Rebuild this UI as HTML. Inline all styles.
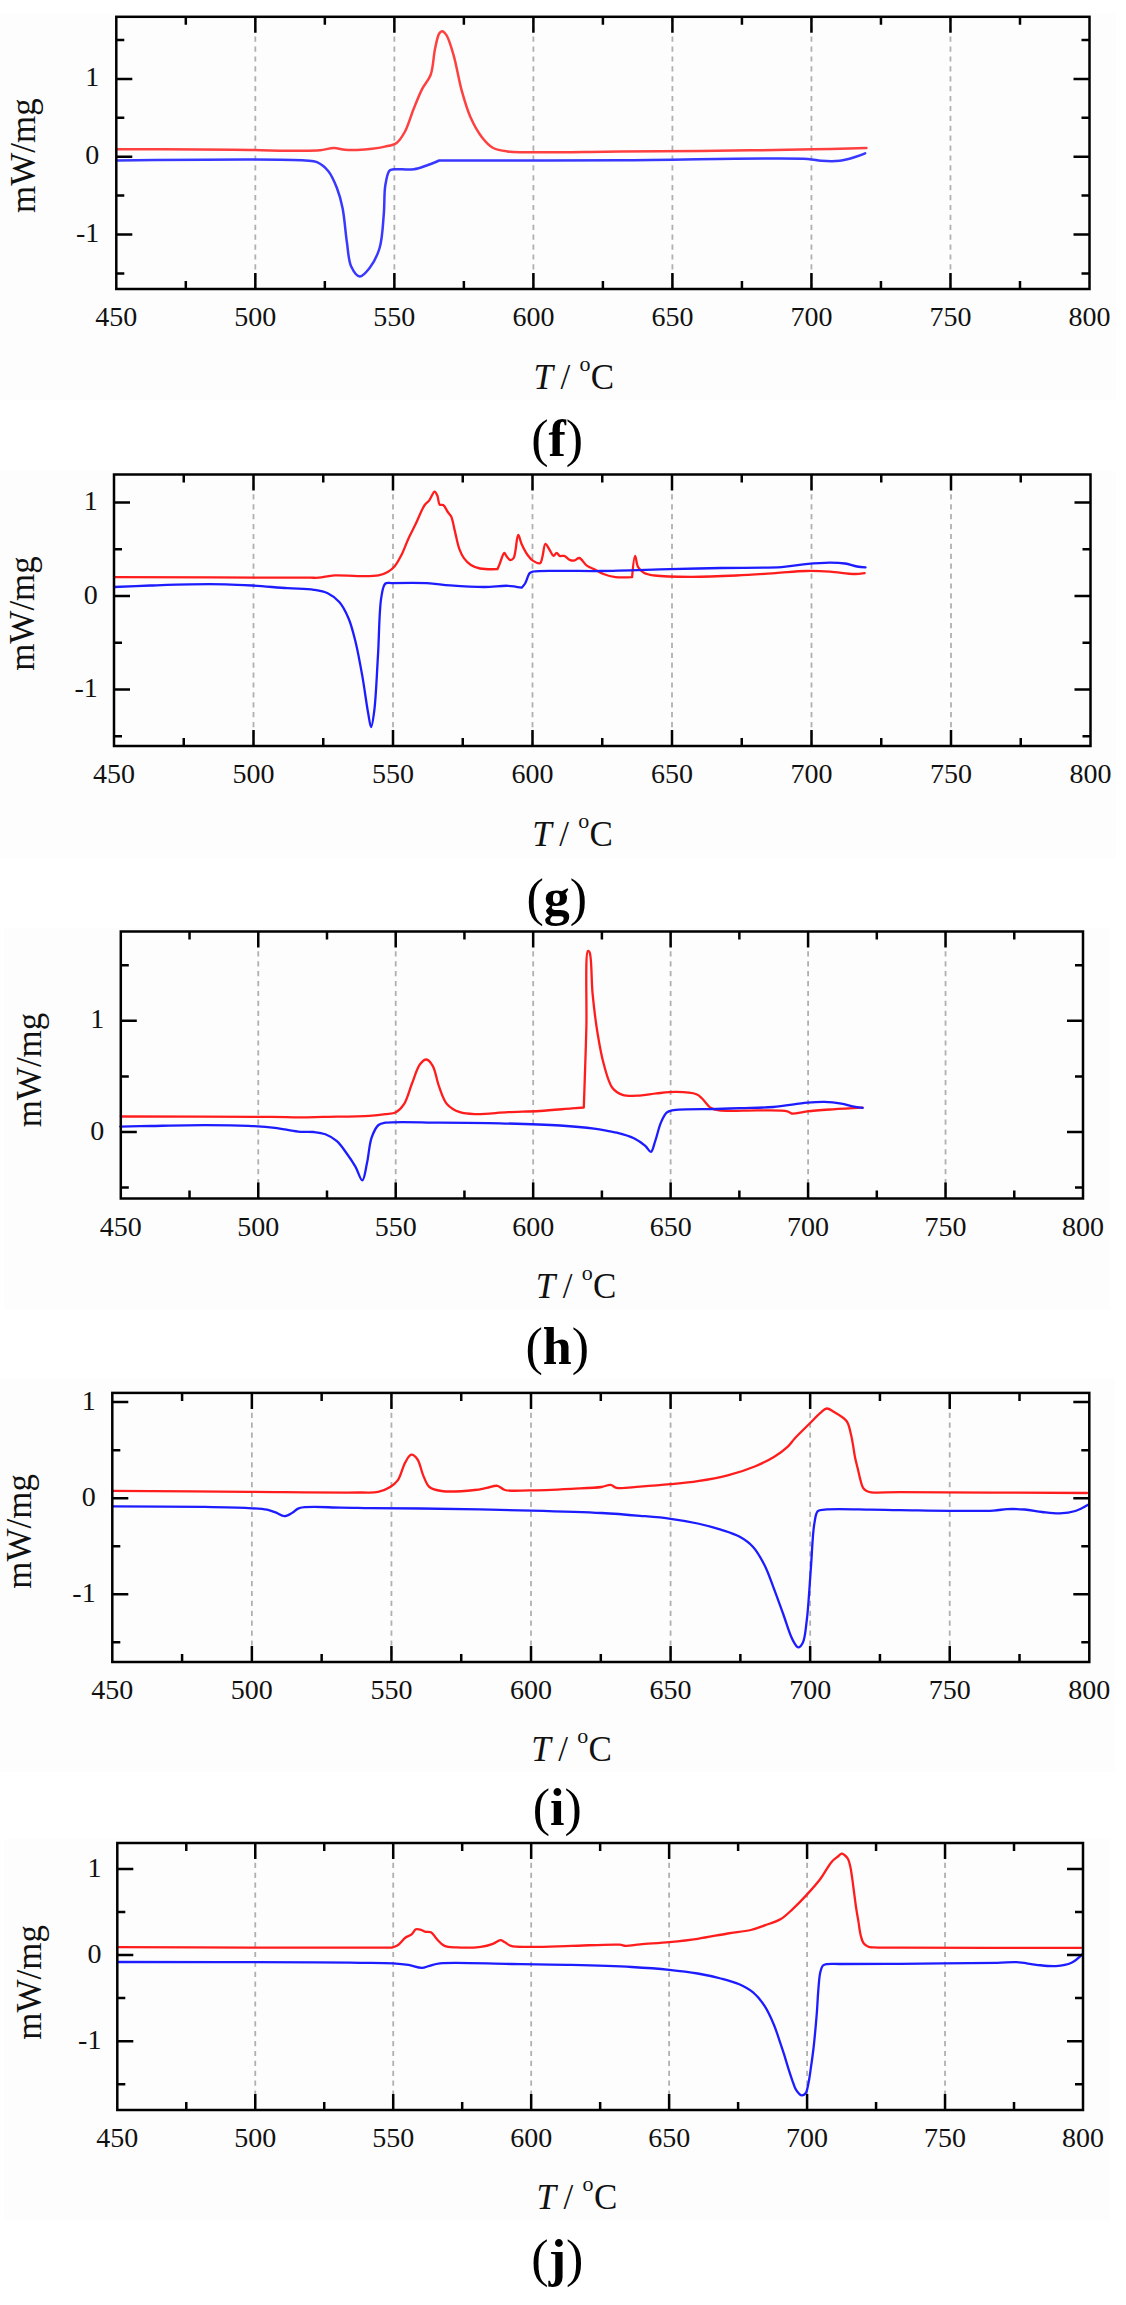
<!DOCTYPE html>
<html><head><meta charset="utf-8"><style>html,body{margin:0;padding:0;background:#fff;overflow:hidden;}svg{display:block;font-family:"Liberation Serif", serif;}</style></head><body>
<svg width="1126" height="2305" viewBox="0 0 1126 2305">
<rect width="1126" height="2305" fill="#fff"/>
<rect x="0" y="13" width="1116" height="387" fill="#fdfdfd"/>
<path d="M255.33 16.8V289M394.36 16.8V289M533.39 16.8V289M672.41 16.8V289M811.44 16.8V289M950.47 16.8V289" stroke="#b0b0b0" stroke-width="1.8" stroke-dasharray="5.2 4.7" fill="none"/>
<path d="M116.3 149.3C116.3 149.3 175.67 149.35 200 149.5C218.8 149.62 233.33 149.78 250 150C266.67 150.22 287.09 150.86 300 150.8C308.17 150.76 313.94 150.87 320 150.3C325.1 149.82 329.61 148 334 148C337.89 148 341.26 149.46 345 149.8C348.85 150.15 352.03 150.25 356.8 150C364.19 149.62 377.71 148.19 385 146.6C389.77 145.56 393.34 145.24 396.6 142.9C400.11 140.38 402.45 136.15 405 131.5C408.34 125.4 410.75 116.09 413.7 108.8C416.49 101.92 419.15 94.88 422.2 88.9C424.87 83.67 428.62 80.36 430.7 74.7C433.31 67.62 433.38 56.55 435 49.1C436.28 43.22 437.41 36.27 439.2 33.5C440.05 32.19 440.97 31.19 442 31.2C443.29 31.21 444.93 32.92 446.3 34.9C448.94 38.73 451.22 47.07 453.5 54.8C456.55 65.14 458.88 80.59 462 91.7C464.63 101.08 467 109.46 470.5 117.3C473.73 124.53 477.68 131.81 481.9 137.2C485.38 141.65 488.86 145.63 493.2 148C497.4 150.29 500.34 150.57 507.4 151.4C527 153.71 585.67 151.49 620 151.4C648.94 151.33 671.04 151.29 700 151C734.42 150.66 782.31 149.9 813 149.3C834.1 148.88 866.4 148 866.4 148" fill="none" stroke="#ff4040" stroke-width="2.5" stroke-linejoin="round" stroke-linecap="round"/>
<path d="M116.3 160.5C116.3 160.5 280.4 158.68 305.4 160.5C311.62 160.95 313.35 160.62 317 162.2C321.07 163.97 325.2 167.37 328.4 171.3C332.05 175.79 334.66 182.29 337 188.3C339.44 194.56 341.06 200.61 342.6 208.2C344.58 217.98 345.32 231.92 346.9 242.3C348.23 251.07 348.35 260.48 351.2 266.5C353.28 270.89 356.63 276.17 359.7 276.4C362.77 276.63 366.62 271.71 369.6 267.9C373.49 262.93 377.25 255.76 379.6 248C382.52 238.37 382.85 224.76 383.8 213.9C384.67 204.02 383.99 193.38 385.3 185.5C386.26 179.71 387.29 172.99 389.5 170.7C390.7 169.46 391.81 169.62 393.8 169.3C397.98 168.64 407.68 170.19 413.7 169.3C418.89 168.53 423.47 166.55 427.9 165C431.91 163.6 439.2 160.5 439.2 160.5C439.2 160.5 439.2 160.5 439.2 160.5C439.2 160.5 559.16 160.56 620 160.3C682.01 160.03 781.59 157.12 807.8 158.9C814.78 159.37 816.2 160.46 821 160.8C826.7 161.21 833.83 161.54 839.8 160.8C845.39 160.11 851.22 158.23 855.8 156.8C859.35 155.69 865.1 153.3 865.1 153.3" fill="none" stroke="#3838ff" stroke-width="2.5" stroke-linejoin="round" stroke-linecap="round"/>
<path d="M185.81 289v-8M185.81 16.8v8M255.33 289v-16M255.33 16.8v16M324.84 289v-8M324.84 16.8v8M394.36 289v-16M394.36 16.8v16M463.87 289v-8M463.87 16.8v8M533.39 289v-16M533.39 16.8v16M602.9 289v-8M602.9 16.8v8M672.41 289v-16M672.41 16.8v16M741.93 289v-8M741.93 16.8v8M811.44 289v-16M811.44 16.8v16M880.96 289v-8M880.96 16.8v8M950.47 289v-16M950.47 16.8v16M1019.99 289v-8M1019.99 16.8v8M116.3 40h8M1089.5 40h-8M116.3 78.9h16M1089.5 78.9h-16M116.3 117.8h8M1089.5 117.8h-8M116.3 156.7h16M1089.5 156.7h-16M116.3 195.6h8M1089.5 195.6h-8M116.3 234.5h16M1089.5 234.5h-16M116.3 273.4h8M1089.5 273.4h-8" stroke="#000" stroke-width="2.5" fill="none"/>
<rect x="116.3" y="16.8" width="973.2" height="272.2" fill="none" stroke="#000" stroke-width="2.5" stroke-linejoin="miter"/>
<g font-size="28" fill="#111"><text x="116.3" y="326" text-anchor="middle">450</text><text x="255.33" y="326" text-anchor="middle">500</text><text x="394.36" y="326" text-anchor="middle">550</text><text x="533.39" y="326" text-anchor="middle">600</text><text x="672.41" y="326" text-anchor="middle">650</text><text x="811.44" y="326" text-anchor="middle">700</text><text x="950.47" y="326" text-anchor="middle">750</text><text x="1089.5" y="326" text-anchor="middle">800</text><text x="99.3" y="86.4" text-anchor="end">1</text><text x="99.3" y="164.2" text-anchor="end">0</text><text x="99.3" y="242" text-anchor="end">-1</text></g>
<text transform="translate(34.8 155.6) rotate(-90)" x="0" y="0" text-anchor="middle" font-size="35" fill="#111">mW/mg</text>
<g font-size="35" fill="#111"><text x="533.5" y="389" font-style="italic">T</text><text x="560.5" y="389">/</text><text x="579.5" y="371" font-size="22">o</text><text x="590.8" y="389">C</text></g>
<text x="531.2" y="455.5" font-size="52" fill="#000">(<tspan font-weight="bold">f</tspan>)</text>
<rect x="0" y="471" width="1116" height="387.3" fill="#fdfdfd"/>
<path d="M253.5 474.5V746M393 474.5V746M532.5 474.5V746M672 474.5V746M811.5 474.5V746M951 474.5V746" stroke="#b0b0b0" stroke-width="1.8" stroke-dasharray="5.2 4.7" fill="none"/>
<path d="M114 577.2C114 577.2 287.48 577.67 310 577.7C314.69 577.71 315.23 577.93 318.5 577.7C323.03 577.38 328.73 575.73 334.6 575.4C341.59 575.01 350.2 576.11 357.7 576.1C364.82 576.09 373.03 576.47 378.5 575.4C382.26 574.66 384.96 573.58 387.7 572C390.34 570.48 392.57 568.69 394.7 566.2C397.29 563.18 399.44 558.94 401.6 554.7C404.08 549.84 406.12 543.66 408.5 538.5C410.73 533.66 412.95 529.64 415.4 524.6C418.29 518.64 421.79 509.12 424.7 505C426.29 502.74 427.82 502.29 429.3 500.4C431.16 498.03 433.09 491.63 434.6 491.6C435.66 491.58 436.62 494.06 437.4 495.8C438.45 498.13 438.25 503.34 439.7 504.6C440.6 505.38 442.1 504.32 443.2 505C444.89 506.04 446.36 509.93 447.8 512C448.99 513.71 450.22 514.53 451.2 516.6C452.75 519.87 453.46 525.46 454.7 530.4C456.13 536.11 457.45 543.88 459.3 548.9C460.66 552.59 461.94 555.39 463.9 558.1C465.82 560.74 468.2 563.27 470.9 565C473.6 566.73 476.48 567.76 480.1 568.5C484.9 569.48 497.4 569.2 497.4 569.2C497.4 569.2 497.4 569.2 497.4 569.2C497.4 569.2 498.81 565.98 499.7 563.9C500.98 560.92 502.9 553.15 504.3 553C505.11 552.91 505.71 555.2 506.6 556.3C507.61 557.54 508.85 559.8 510.1 560C511.2 560.18 512.59 559.47 513.6 558.1C516.06 554.76 516.51 535.14 518.2 535C519.3 534.91 520.26 541.17 521.7 544.3C523.27 547.72 525.29 551.79 527.4 554.7C529.18 557.16 530.98 559.48 533.2 560.9C535.25 562.22 538.57 563.94 540.1 563.2C541.56 562.5 541.66 559.48 542.4 557C543.46 553.45 543.93 544.09 545.4 543.8C546.41 543.6 547.83 547.13 549.1 549C550.55 551.12 552.16 555.75 553.6 555.9C554.63 556.01 555.6 552.9 556.6 552.9C557.6 552.9 558.37 555.39 559.6 555.9C560.88 556.43 562.64 555.41 564.2 555.9C566.16 556.52 568.25 559.41 570.2 560.1C571.73 560.64 573.23 560.71 574.7 560.4C576.27 560.07 577.68 557.75 579.3 558C581.62 558.36 584.12 563.69 586.8 565.6C589.16 567.29 591.69 567.89 594.3 569.2C597.2 570.66 600.07 572.72 603.4 574C607.07 575.42 611.11 576.55 615.5 577.1C620.56 577.74 632.1 577.1 632.1 577.1C632.1 577.1 632.1 577.1 632.1 577.1C632.1 577.1 633.89 555.97 635.1 555.9C635.99 555.85 636.36 564.12 638.1 567.1C639.59 569.66 641.65 571.71 644.2 573.1C647.06 574.66 650.11 574.9 654.7 575.5C663.13 576.6 678.23 576.75 691 576.8C705.26 576.85 721.75 576.15 736.3 575.5C749.84 574.89 763.29 573.9 775.5 573.1C786.22 572.4 796.19 571.21 805.7 571C814.21 570.81 821.85 571.1 829.9 571.6C837.95 572.1 847.59 573.95 854 574C858.25 574.03 864.6 573.1 864.6 573.1" fill="none" stroke="#ff1c1c" stroke-width="2.3" stroke-linejoin="round" stroke-linecap="round"/>
<path d="M114 587C114 587 138.09 585.94 150.5 585.5C163.41 585.04 177.18 584.49 190 584.3C202.15 584.12 214.53 584.05 225.5 584.3C234.98 584.51 242.52 584.93 252 585.5C263 586.17 276.63 587.45 287.6 588.2C297.03 588.84 306.58 588.68 313.9 589.8C319.28 590.62 323.49 591.19 327.7 593.2C331.96 595.23 335.98 598.2 339.3 602C343.06 606.29 345.92 612.17 348.5 618.2C351.43 625.05 353.28 632.69 355.4 641.2C357.97 651.53 360.21 664.13 362.3 675.9C364.45 687.99 366.37 703.38 368.1 712.8C369.18 718.69 370.1 727.11 371.1 727.1C372.17 727.09 373.37 717.69 374.3 710.5C375.98 697.47 376.84 673.76 378 655.1C379.18 636.07 379.11 609.98 381.3 597.4C382.39 591.1 382.86 585.51 385.4 583.5C387.17 582.1 389.18 583.19 392.4 583.1C399.55 582.9 416.64 582.59 427 583.1C435.49 583.52 441.62 584.78 450.1 585.4C460.46 586.16 474.33 587.03 484.7 587C493.18 586.98 501.08 585.52 507.8 585.8C513.03 586.02 521.7 587.7 521.7 587.7C521.7 587.7 521.7 587.7 521.7 587.7C521.7 587.7 524 585.3 525.1 583.5C526.7 580.88 527.87 574.95 529.7 573.1C530.77 572.02 531.42 571.91 533.2 571.5C537.89 570.42 550.15 570.9 560 570.8C572.09 570.67 585.12 571.16 600.4 571C620.42 570.79 648.4 569.73 669.8 569.2C688.22 568.75 703.38 568.34 721.2 568C740.5 567.63 765.93 568.18 781.5 567.1C791.4 566.41 797.62 564.85 805.7 564.1C813.76 563.35 822.78 562.61 829.9 562.6C835.52 562.59 840.29 562.78 845 563.5C849.26 564.15 853.32 565.85 857 566.5C860.06 567.04 865.5 567.4 865.5 567.4" fill="none" stroke="#1c1cff" stroke-width="2.3" stroke-linejoin="round" stroke-linecap="round"/>
<path d="M183.75 746v-8M183.75 474.5v8M253.5 746v-16M253.5 474.5v16M323.25 746v-8M323.25 474.5v8M393 746v-16M393 474.5v16M462.75 746v-8M462.75 474.5v8M532.5 746v-16M532.5 474.5v16M602.25 746v-8M602.25 474.5v8M672 746v-16M672 474.5v16M741.75 746v-8M741.75 474.5v8M811.5 746v-16M811.5 474.5v16M881.25 746v-8M881.25 474.5v8M951 746v-16M951 474.5v16M1020.75 746v-8M1020.75 474.5v8M114 502.55h16M1090.5 502.55h-16M114 549.27h8M1090.5 549.27h-8M114 596h16M1090.5 596h-16M114 642.73h8M1090.5 642.73h-8M114 689.45h16M1090.5 689.45h-16M114 736.17h8M1090.5 736.17h-8" stroke="#000" stroke-width="2.5" fill="none"/>
<rect x="114" y="474.5" width="976.5" height="271.5" fill="none" stroke="#000" stroke-width="2.5" stroke-linejoin="miter"/>
<g font-size="28" fill="#111"><text x="114" y="783" text-anchor="middle">450</text><text x="253.5" y="783" text-anchor="middle">500</text><text x="393" y="783" text-anchor="middle">550</text><text x="532.5" y="783" text-anchor="middle">600</text><text x="672" y="783" text-anchor="middle">650</text><text x="811.5" y="783" text-anchor="middle">700</text><text x="951" y="783" text-anchor="middle">750</text><text x="1090.5" y="783" text-anchor="middle">800</text><text x="97.8" y="510.05" text-anchor="end">1</text><text x="97.8" y="603.5" text-anchor="end">0</text><text x="97.8" y="696.95" text-anchor="end">-1</text></g>
<text transform="translate(34.1 613.5) rotate(-90)" x="0" y="0" text-anchor="middle" font-size="35" fill="#111">mW/mg</text>
<g font-size="35" fill="#111"><text x="532.2" y="846" font-style="italic">T</text><text x="559.2" y="846">/</text><text x="578.2" y="828" font-size="22">o</text><text x="589.5" y="846">C</text></g>
<text x="526.5" y="914.5" font-size="52" fill="#000">(<tspan font-weight="bold">g</tspan>)</text>
<rect x="3.7" y="928.2" width="1106" height="381.5" fill="#fdfdfd"/>
<path d="M258.26 931.5V1198.5M395.71 931.5V1198.5M533.17 931.5V1198.5M670.63 931.5V1198.5M808.09 931.5V1198.5M945.54 931.5V1198.5" stroke="#b0b0b0" stroke-width="1.8" stroke-dasharray="5.2 4.7" fill="none"/>
<path d="M120.8 1116.5C120.8 1116.5 240.8 1116.59 271.3 1116.9C284.62 1117.03 290.95 1117.42 300 1117.4C308.12 1117.38 314.08 1117.11 323.1 1116.9C335.86 1116.61 357.88 1116.5 369.3 1115.8C376.06 1115.38 380.61 1114.89 385.4 1114.2C389.31 1113.64 392.93 1113.82 396 1112.2C399.15 1110.54 401.65 1107.81 404 1104.2C407.29 1099.15 409.29 1090.25 412 1083.5C414.62 1076.96 416.86 1068.34 420 1064.3C421.95 1061.79 424.34 1059.35 426.4 1059.5C428.58 1059.66 430.89 1062.86 432.7 1065.9C435.52 1070.63 436.6 1080.14 439.1 1086.7C441.45 1092.87 443.29 1099.86 447.1 1104.2C450.47 1108.04 455.19 1110.54 459.9 1112.2C464.76 1113.91 469.64 1113.92 475.9 1114.1C484.73 1114.36 497.24 1112.72 507.9 1112.2C518.54 1111.68 529.17 1111.63 539.8 1111C550.47 1110.37 563.7 1109.03 571.8 1108.4C576.76 1108.01 583.8 1107.5 583.8 1107.5C583.8 1107.5 583.8 1107.5 583.8 1107.5C583.8 1107.5 584.94 1074.52 585.4 1060C585.79 1047.69 586.07 1039.48 586.4 1025.9C586.9 1005.78 585.01 952.33 587.9 951C588.4 950.77 589.1 951.43 589.6 952.4C591.79 956.64 591.26 980.35 592.6 993.9C593.89 1006.97 595.42 1020.12 597.4 1032.3C599.22 1043.49 601.05 1054.53 603.8 1064.3C606.22 1072.89 608.47 1082.83 612.5 1088C615.29 1091.58 618.5 1093.47 622.5 1094.8C627.26 1096.39 633.92 1095.83 639.6 1095.6C645.29 1095.37 650.7 1094 656.6 1093.4C662.96 1092.75 669.87 1091.77 676.5 1091.9C683.14 1092.03 691.93 1092.41 696.4 1094.2C699.07 1095.27 700.1 1096.68 702.1 1098.5C704.76 1100.92 707.47 1105.82 710.6 1107.8C713.23 1109.46 715.16 1109.81 719.1 1110.4C727.43 1111.65 746.75 1110.21 758.9 1110.4C769.16 1110.56 782.07 1109.95 787.3 1111.3C789.45 1111.86 789.65 1113.17 791.6 1113.5C795.12 1114.09 801.35 1111.94 807.2 1111.3C814.67 1110.48 823.94 1109.9 832.8 1109.3C842.35 1108.65 862.6 1107.6 862.6 1107.6" fill="none" stroke="#ff1c1c" stroke-width="2.3" stroke-linejoin="round" stroke-linecap="round"/>
<path d="M120.3 1126.6C120.3 1126.6 139.01 1126.2 150.5 1126C165.76 1125.73 186.84 1125.21 203.8 1125.2C219.28 1125.19 235.28 1125.23 248.2 1125.8C258.23 1126.24 266.34 1126.78 274.9 1127.8C282.9 1128.76 291 1130.94 298 1131.6C303.77 1132.14 309.05 1131.46 313.9 1132C318.06 1132.47 321.69 1132.86 325.4 1134.3C329.37 1135.84 333.5 1138.24 336.9 1141.2C340.47 1144.31 343.2 1148.61 346.2 1152.7C349.38 1157.04 352.68 1161.89 355.4 1166.6C358.02 1171.13 360.41 1180.59 362.3 1180.4C364.34 1180.2 365.56 1169.45 367 1163.1C368.72 1155.48 369.19 1144.56 371.6 1137.7C373.41 1132.57 375.65 1127.39 378.5 1125C380.52 1123.31 381.94 1123.26 385.4 1122.7C394.88 1121.15 421.37 1122.51 440 1122.6C459.53 1122.7 480 1122.82 500 1123.3C520 1123.78 542.82 1124.4 560 1125.5C572.97 1126.33 584.86 1127.38 594.1 1128.6C600.48 1129.44 606.01 1130.66 610.2 1131.4C612.88 1131.88 614.12 1131.91 616.8 1132.6C621.2 1133.73 628.92 1135.86 633.9 1138.3C638.24 1140.42 642.28 1143.34 645.3 1145.9C647.64 1147.88 649.34 1152.19 650.9 1151.9C652.76 1151.55 653.75 1145.21 655.2 1141.1C657.07 1135.79 658.68 1127.71 660.9 1122.6C662.61 1118.68 664.32 1114.7 666.6 1112.7C668.26 1111.24 669.37 1111.01 672.2 1110.4C679.85 1108.76 703.86 1109.43 716.3 1109C725.42 1108.68 731.44 1108.4 740 1108.1C750.11 1107.74 762.01 1107.88 773.1 1107C784.4 1106.1 797.76 1103.51 807.2 1102.7C813.86 1102.13 818.61 1101.75 824.3 1101.9C829.98 1102.05 836.23 1102.73 841.3 1103.6C845.51 1104.32 849.02 1105.69 852.7 1106.4C856.1 1107.06 862.6 1107.8 862.6 1107.8" fill="none" stroke="#1c1cff" stroke-width="2.3" stroke-linejoin="round" stroke-linecap="round"/>
<path d="M189.53 1198.5v-8M189.53 931.5v8M258.26 1198.5v-16M258.26 931.5v16M326.99 1198.5v-8M326.99 931.5v8M395.71 1198.5v-16M395.71 931.5v16M464.44 1198.5v-8M464.44 931.5v8M533.17 1198.5v-16M533.17 931.5v16M601.9 1198.5v-8M601.9 931.5v8M670.63 1198.5v-16M670.63 931.5v16M739.36 1198.5v-8M739.36 931.5v8M808.09 1198.5v-16M808.09 931.5v16M876.81 1198.5v-8M876.81 931.5v8M945.54 1198.5v-16M945.54 931.5v16M1014.27 1198.5v-8M1014.27 931.5v8M120.8 965.2h8M1083 965.2h-8M120.8 1020.8h16M1083 1020.8h-16M120.8 1076.4h8M1083 1076.4h-8M120.8 1132h16M1083 1132h-16M120.8 1187.6h8M1083 1187.6h-8" stroke="#000" stroke-width="2.5" fill="none"/>
<rect x="120.8" y="931.5" width="962.2" height="267" fill="none" stroke="#000" stroke-width="2.5" stroke-linejoin="miter"/>
<g font-size="28" fill="#111"><text x="120.8" y="1235.5" text-anchor="middle">450</text><text x="258.26" y="1235.5" text-anchor="middle">500</text><text x="395.71" y="1235.5" text-anchor="middle">550</text><text x="533.17" y="1235.5" text-anchor="middle">600</text><text x="670.63" y="1235.5" text-anchor="middle">650</text><text x="808.09" y="1235.5" text-anchor="middle">700</text><text x="945.54" y="1235.5" text-anchor="middle">750</text><text x="1083" y="1235.5" text-anchor="middle">800</text><text x="104.2" y="1028.3" text-anchor="end">1</text><text x="104.2" y="1139.5" text-anchor="end">0</text></g>
<text transform="translate(41.2 1070) rotate(-90)" x="0" y="0" text-anchor="middle" font-size="35" fill="#111">mW/mg</text>
<g font-size="35" fill="#111"><text x="535.7" y="1298" font-style="italic">T</text><text x="562.7" y="1298">/</text><text x="581.7" y="1280" font-size="22">o</text><text x="593" y="1298">C</text></g>
<text x="525.5" y="1364" font-size="52" fill="#000">(<tspan font-weight="bold">h</tspan>)</text>
<rect x="0" y="1378.5" width="1115.3" height="393.5" fill="#fdfdfd"/>
<path d="M251.87 1392.9V1662M391.44 1392.9V1662M531.01 1392.9V1662M670.59 1392.9V1662M810.16 1392.9V1662M949.73 1392.9V1662" stroke="#b0b0b0" stroke-width="1.8" stroke-dasharray="5.2 4.7" fill="none"/>
<path d="M112.3 1490.8C112.3 1490.8 205.37 1491.61 248.5 1491.9C287.52 1492.16 338.65 1492.8 360 1492.5C368.6 1492.38 372.76 1493.03 378.1 1491.9C382.63 1490.94 386.79 1489.1 390.2 1487C393.18 1485.16 395.49 1483.48 397.7 1480.4C400.8 1476.09 402.58 1466.91 405.3 1462.3C407.21 1459.06 409.15 1454.98 411.3 1454.7C413.21 1454.45 415.65 1456.93 417.4 1459.3C420.06 1462.9 421.2 1470.99 423.4 1475.9C425.26 1480.05 426.4 1484.48 429.4 1487C432.42 1489.53 436.39 1490.26 441.5 1491C449.75 1492.2 466.39 1490.84 474.7 1490C479.75 1489.49 482.9 1488.62 486.8 1487.9C490.45 1487.22 494.25 1485.3 497.4 1485.8C500.21 1486.25 501.54 1489.09 504.9 1490C510.54 1491.52 519.92 1490.5 529.1 1490.4C541.25 1490.27 558.5 1489.43 571.4 1488.8C582.29 1488.27 594.41 1488.02 601.5 1487C605.45 1486.43 607.93 1484.58 610.6 1484.9C612.86 1485.17 613.84 1487.33 616.6 1487.9C621.75 1488.97 631.67 1487.16 640 1486.6C649.54 1485.96 660.8 1485.14 670.7 1484.2C680 1483.32 688.49 1482.6 697.7 1481.2C707.47 1479.72 717.98 1477.94 727.7 1475.4C737.2 1472.92 747.2 1469.58 755.4 1466.2C762.3 1463.36 768.31 1460.44 773.9 1457C779.02 1453.85 784.12 1450.06 787.8 1446.6C790.68 1443.89 791.84 1441.6 794.7 1438.5C798.9 1433.96 806.26 1426.94 810.9 1422.3C814.4 1418.8 817.2 1415.55 820.1 1413.1C822.37 1411.19 824.3 1408.71 826.6 1408.5C828.93 1408.28 831.29 1410.31 834 1411.9C837.77 1414.11 843.91 1417.37 846.7 1421.2C849.21 1424.64 849.65 1429.32 850.7 1433.3C851.69 1437.05 852.2 1440.53 852.9 1444.4C853.67 1448.63 854.24 1453.48 855.1 1457.7C855.89 1461.58 856.92 1465.1 857.8 1468.8C858.68 1472.5 859.44 1476.52 860.4 1479.9C861.23 1482.81 861.82 1485.97 863.1 1487.9C864.05 1489.34 865.27 1490.27 866.6 1491C867.93 1491.73 868.92 1491.99 871.1 1492.3C876.52 1493.06 886.17 1492.19 900 1492.2C935.19 1492.21 1087.1 1493 1087.1 1493" fill="none" stroke="#ff1c1c" stroke-width="2.3" stroke-linejoin="round" stroke-linecap="round"/>
<path d="M112.3 1506.3C112.3 1506.3 177.35 1506.49 202.4 1506.9C220.32 1507.19 236.59 1507.43 248.5 1508.1C256.06 1508.52 261.95 1508.67 267 1509.7C270.65 1510.44 273.26 1511.59 276.2 1512.7C279.01 1513.76 281.6 1516.2 284.3 1516.2C287 1516.2 289.87 1514.08 292.4 1512.7C294.86 1511.36 295.8 1509.18 299.3 1508.1C307.14 1505.67 328.27 1507.57 340.9 1507.6C351.46 1507.63 358.98 1507.96 370 1508.1C384.51 1508.28 400.33 1508.23 420.4 1508.5C450.15 1508.9 498.45 1509.73 531.2 1510.6C557.29 1511.29 581.58 1511.94 601.5 1513C616.26 1513.79 627.9 1514.77 640 1515.8C650.82 1516.72 660.82 1517.46 670.7 1518.8C680.01 1520.06 689.09 1521.6 697.7 1523.5C705.74 1525.28 713.58 1527.39 720.8 1529.7C727.36 1531.8 733.78 1533.57 739.3 1536.6C744.46 1539.43 749.05 1542.58 753.1 1547C757.66 1551.97 761.31 1558.83 764.7 1565.5C768.31 1572.62 770.88 1580.7 773.9 1588.6C777.05 1596.84 780.12 1605.53 783.2 1614C786.28 1622.46 789.25 1633.46 792.4 1639.4C794.3 1642.99 796.29 1647.25 798.2 1647.4C799.75 1647.52 801.56 1645.18 802.8 1642.8C805.1 1638.4 805.56 1629.82 806.7 1620.9C808.47 1607.09 809.58 1584.66 810.9 1567.8C812.1 1552.47 812.52 1534.08 814.3 1523.9C815.27 1518.33 815.5 1513.41 817.8 1511.2C819.49 1509.58 821.35 1509.98 824.7 1509.6C833.25 1508.62 857.27 1509.48 870.9 1509.6C881.72 1509.69 887.55 1509.96 900 1510.1C922.29 1510.35 976.08 1511.49 993.3 1510.6C999.92 1510.26 1002.14 1509.31 1007 1509.1C1012.49 1508.86 1018.75 1509.02 1024.6 1509.5C1030.48 1509.98 1036.32 1511.35 1042.2 1512C1048.06 1512.65 1054.12 1513.61 1059.8 1513.4C1065.17 1513.2 1070.57 1512.51 1075.4 1511C1079.97 1509.57 1088.1 1504.8 1088.1 1504.8" fill="none" stroke="#1c1cff" stroke-width="2.3" stroke-linejoin="round" stroke-linecap="round"/>
<path d="M182.09 1662v-8M182.09 1392.9v8M251.87 1662v-16M251.87 1392.9v16M321.66 1662v-8M321.66 1392.9v8M391.44 1662v-16M391.44 1392.9v16M461.23 1662v-8M461.23 1392.9v8M531.01 1662v-16M531.01 1392.9v16M600.8 1662v-8M600.8 1392.9v8M670.59 1662v-16M670.59 1392.9v16M740.37 1662v-8M740.37 1392.9v8M810.16 1662v-16M810.16 1392.9v16M879.94 1662v-8M879.94 1392.9v8M949.73 1662v-16M949.73 1392.9v16M1019.51 1662v-8M1019.51 1392.9v8M112.3 1402.1h16M1089.3 1402.1h-16M112.3 1450.15h8M1089.3 1450.15h-8M112.3 1498.2h16M1089.3 1498.2h-16M112.3 1546.25h8M1089.3 1546.25h-8M112.3 1594.3h16M1089.3 1594.3h-16M112.3 1642.35h8M1089.3 1642.35h-8" stroke="#000" stroke-width="2.5" fill="none"/>
<rect x="112.3" y="1392.9" width="977" height="269.1" fill="none" stroke="#000" stroke-width="2.5" stroke-linejoin="miter"/>
<g font-size="28" fill="#111"><text x="112.3" y="1698.5" text-anchor="middle">450</text><text x="251.87" y="1698.5" text-anchor="middle">500</text><text x="391.44" y="1698.5" text-anchor="middle">550</text><text x="531.01" y="1698.5" text-anchor="middle">600</text><text x="670.59" y="1698.5" text-anchor="middle">650</text><text x="810.16" y="1698.5" text-anchor="middle">700</text><text x="949.73" y="1698.5" text-anchor="middle">750</text><text x="1089.3" y="1698.5" text-anchor="middle">800</text><text x="95.7" y="1409.6" text-anchor="end">1</text><text x="95.7" y="1505.7" text-anchor="end">0</text><text x="95.7" y="1601.8" text-anchor="end">-1</text></g>
<text transform="translate(31.3 1531.4) rotate(-90)" x="0" y="0" text-anchor="middle" font-size="35" fill="#111">mW/mg</text>
<g font-size="35" fill="#111"><text x="531.3" y="1760.5" font-style="italic">T</text><text x="558.3" y="1760.5">/</text><text x="577.3" y="1742.5" font-size="22">o</text><text x="588.6" y="1760.5">C</text></g>
<text x="532.7" y="1824.5" font-size="52" fill="#000">(<tspan font-weight="bold">i</tspan>)</text>
<rect x="3.7" y="1838.8" width="1106" height="381.6" fill="#fdfdfd"/>
<path d="M255.26 1843V2110M393.21 1843V2110M531.17 1843V2110M669.13 1843V2110M807.09 1843V2110M945.04 1843V2110" stroke="#b0b0b0" stroke-width="1.8" stroke-dasharray="5.2 4.7" fill="none"/>
<path d="M117.3 1947.2C117.3 1947.2 205.99 1947.52 250 1947.6C293.56 1947.68 360 1947.69 380 1947.7C386 1947.7 391.7 1947.7 391.7 1947.7C391.7 1947.7 391.7 1947.7 391.7 1947.7C391.7 1947.7 395.72 1946.61 397.7 1945.3C400.26 1943.61 402.77 1939.53 405.3 1937.7C407.3 1936.26 409.55 1936.07 411.3 1934.7C413.1 1933.29 414.17 1930.03 415.9 1929.3C417.28 1928.72 418.93 1929.22 420.4 1929.6C421.94 1930 423.24 1931.25 424.9 1931.7C426.74 1932.2 429.15 1931.34 431 1932.3C433.27 1933.48 434.8 1937.07 437 1939.3C439.29 1941.62 441.45 1944.53 444.5 1945.9C447.87 1947.41 451.86 1947.17 456.6 1947.4C463.27 1947.73 474.16 1947.69 480.8 1946.8C485.57 1946.16 489.4 1945.06 492.9 1943.8C495.76 1942.77 498.22 1940.21 500.4 1940.2C502.09 1940.19 503.31 1941.46 504.9 1942.3C506.8 1943.3 508.23 1945.08 511 1945.9C515.71 1947.3 523.54 1946.72 531.5 1946.8C542.6 1946.92 557.47 1946.23 571.4 1945.9C586.73 1945.54 611.33 1943.98 619.7 1944.7C622.68 1944.96 623.26 1945.79 625.7 1945.9C629.44 1946.07 634.38 1944.91 640 1944.4C648.03 1943.66 659.62 1943.04 669.3 1942.1C678.85 1941.17 688.12 1940.2 697.7 1938.8C707.58 1937.35 718.34 1935.04 727.7 1933.5C735.89 1932.16 744.13 1931.6 750.8 1930C756.08 1928.74 759.92 1927.14 764.7 1925.4C769.9 1923.51 776.07 1921.82 780.8 1919C785.22 1916.37 788.45 1912.93 792.4 1909.3C796.89 1905.17 801.68 1900.29 806.2 1895.4C810.92 1890.31 815.85 1884.91 820.1 1879.3C824.31 1873.74 828.08 1865.89 831.6 1861.9C833.82 1859.38 836.05 1858 837.9 1856.5C839.31 1855.36 840.5 1853.71 841.7 1853.6C842.67 1853.51 843.59 1854.3 844.5 1855C845.67 1855.89 846.99 1857.19 847.9 1858.8C849.05 1860.82 849.63 1863.63 850.3 1866.5C851.12 1870.01 851.59 1874.25 852.2 1878.4C852.86 1882.94 853.47 1887.93 854.1 1892.7C854.73 1897.47 855.29 1902.23 856 1907C856.72 1911.8 857.6 1916.61 858.4 1921.4C859.2 1926.18 859.74 1931.72 860.8 1935.7C861.59 1938.67 862.16 1941.42 863.6 1943.3C864.83 1944.91 866.72 1946.03 868.4 1946.7C869.93 1947.31 870.94 1947.22 873.2 1947.4C878.5 1947.81 887.1 1947.62 900 1947.7C933.55 1947.9 1081.2 1947.8 1081.2 1947.8" fill="none" stroke="#ff1c1c" stroke-width="2.3" stroke-linejoin="round" stroke-linecap="round"/>
<path d="M117.3 1962C117.3 1962 273.49 1962.03 315.9 1962.3C335.88 1962.43 346.34 1962.6 360 1962.8C371.85 1962.97 384.29 1962.88 393.2 1963.4C399.22 1963.75 403.42 1964.12 408.3 1964.9C412.97 1965.65 418.05 1968.01 421.9 1967.9C424.78 1967.82 426.67 1966.49 429.4 1965.8C432.62 1964.99 434.86 1963.95 440 1963.4C453.15 1961.99 488.29 1963.73 511 1964C531.95 1964.24 551.28 1964.4 571.4 1964.9C591.51 1965.4 613.97 1966.03 631.7 1967C645.71 1967.77 657.66 1968.61 669.3 1969.8C679.45 1970.84 688.75 1971.95 697.7 1973.5C705.83 1974.91 713.57 1976.59 720.8 1978.5C727.35 1980.23 733.71 1981.82 739.3 1984.3C744.38 1986.55 748.96 1988.91 753.1 1992.4C757.49 1996.11 761.32 2001.04 764.7 2006.2C768.32 2011.72 771.3 2018.55 773.9 2024.7C776.35 2030.51 778.2 2036.82 780 2042.1C781.5 2046.49 782.68 2050.05 784 2054.2C785.39 2058.57 786.71 2063.33 788.1 2067.7C789.42 2071.85 790.71 2075.97 792.1 2079.8C793.38 2083.34 794.32 2087.2 796.1 2089.9C797.59 2092.17 799.72 2095.02 801.5 2095.3C802.88 2095.52 804.55 2094.47 805.6 2093.2C807.08 2091.42 807.42 2087.9 808.2 2084.5C809.27 2079.84 810.04 2073.56 810.9 2067.7C811.84 2061.28 812.82 2054.24 813.6 2047.5C814.38 2040.77 815.01 2033.73 815.6 2027.3C816.13 2021.44 816.57 2016.36 817 2010.5C817.47 2004.08 817.73 1996.84 818.3 1990.3C818.84 1984.09 819.17 1976.71 820.3 1972.2C821.01 1969.36 821.61 1966.81 823 1965.5C824.07 1964.48 825.32 1964.4 827.1 1964.1C830.17 1963.58 834.12 1964.03 840 1964C852.67 1963.93 877.6 1963.95 900 1963.8C928.51 1963.61 977.12 1963.21 997.2 1962.8C1006.22 1962.62 1010.29 1961.87 1016.8 1962.2C1023.32 1962.53 1029.79 1964.15 1036.3 1964.8C1042.79 1965.45 1049.68 1966.53 1055.8 1966.1C1061.35 1965.71 1066.97 1964.91 1071.5 1962.8C1075.67 1960.86 1082.2 1954.4 1082.2 1954.4" fill="none" stroke="#1c1cff" stroke-width="2.3" stroke-linejoin="round" stroke-linecap="round"/>
<path d="M186.28 2110v-8M186.28 1843v8M255.26 2110v-16M255.26 1843v16M324.24 2110v-8M324.24 1843v8M393.21 2110v-16M393.21 1843v16M462.19 2110v-8M462.19 1843v8M531.17 2110v-16M531.17 1843v16M600.15 2110v-8M600.15 1843v8M669.13 2110v-16M669.13 1843v16M738.11 2110v-8M738.11 1843v8M807.09 2110v-16M807.09 1843v16M876.06 2110v-8M876.06 1843v8M945.04 2110v-16M945.04 1843v16M1014.02 2110v-8M1014.02 1843v8M117.3 1869.05h16M1083 1869.05h-16M117.3 1912.07h8M1083 1912.07h-8M117.3 1955.1h16M1083 1955.1h-16M117.3 1998.12h8M1083 1998.12h-8M117.3 2041.15h16M1083 2041.15h-16M117.3 2084.17h8M1083 2084.17h-8" stroke="#000" stroke-width="2.5" fill="none"/>
<rect x="117.3" y="1843" width="965.7" height="267" fill="none" stroke="#000" stroke-width="2.5" stroke-linejoin="miter"/>
<g font-size="28" fill="#111"><text x="117.3" y="2146.5" text-anchor="middle">450</text><text x="255.26" y="2146.5" text-anchor="middle">500</text><text x="393.21" y="2146.5" text-anchor="middle">550</text><text x="531.17" y="2146.5" text-anchor="middle">600</text><text x="669.13" y="2146.5" text-anchor="middle">650</text><text x="807.09" y="2146.5" text-anchor="middle">700</text><text x="945.04" y="2146.5" text-anchor="middle">750</text><text x="1083" y="2146.5" text-anchor="middle">800</text><text x="101.4" y="1876.55" text-anchor="end">1</text><text x="101.4" y="1962.6" text-anchor="end">0</text><text x="101.4" y="2048.65" text-anchor="end">-1</text></g>
<text transform="translate(41.2 1982.4) rotate(-90)" x="0" y="0" text-anchor="middle" font-size="35" fill="#111">mW/mg</text>
<g font-size="35" fill="#111"><text x="536.6" y="2209" font-style="italic">T</text><text x="563.6" y="2209">/</text><text x="582.6" y="2191" font-size="22">o</text><text x="593.9" y="2209">C</text></g>
<text x="531.3" y="2276" font-size="52" fill="#000">(<tspan font-weight="bold">j</tspan>)</text>
</svg>
</body></html>
